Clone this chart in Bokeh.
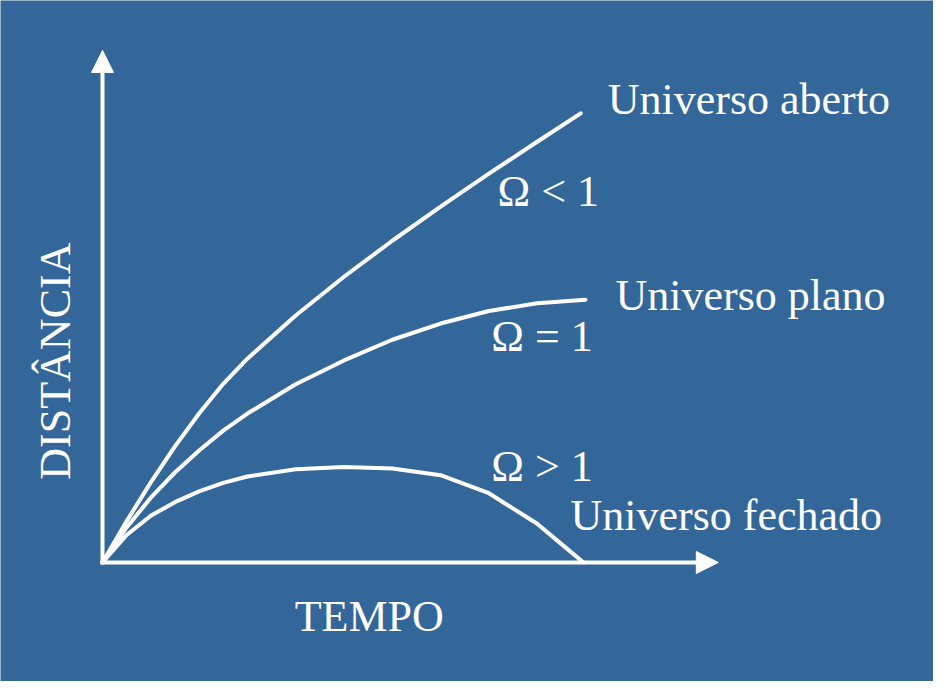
import math
from bokeh.plotting import figure
from bokeh.models import Range1d, Arrow, NormalHead
from bokeh.core.properties import value
from bokeh.embed import file_html
from bokeh.resources import INLINE

# --- data (arbitrary units: time, distance) ---
t_open = [0, 0.5, 1, 1.5, 2, 2.5, 3, 4, 5, 6, 7, 8, 9, 9.9]
d_open = [0, 0.92, 1.78, 2.58, 3.31, 3.97, 4.53, 5.49, 6.35, 7.15, 7.91, 8.64, 9.35, 9.98]

t_flat = [0, 0.5, 1, 1.5, 2, 2.5, 3, 4, 5, 6, 7, 8, 9, 10]
d_flat = [0, 0.78, 1.44, 2.00, 2.49, 2.93, 3.31, 3.96, 4.49, 4.95, 5.31, 5.59, 5.76, 5.84]

t_closed = [0, 0.5, 1, 1.5, 2, 2.5, 3, 4, 5, 6, 7, 8, 9, 9.59, 9.96]
d_closed = [0, 0.61, 1.04, 1.34, 1.58, 1.77, 1.91, 2.07, 2.12, 2.09, 1.94, 1.54, 0.86, 0.33, 0]

axis_time_end = 12.75
axis_dist_end = 11.38

curve_labels = ["Universo aberto", "Ω < 1", "Universo plano", "Ω = 1", "Ω > 1", "Universo fechado"]
x_title = "TEMPO"
y_title = "DISTÂNCIA"

# --- layout ---
W, H = 933, 681
PX_X, PX_Y = 48.3, 45.0
ORIG_X, ORIG_Y = 102, 119  # origin in figure pixels (from left, from bottom)

BG = "#336699"
FONT = value("Liberation Serif")

p = figure(width=W, height=H,
           x_range=Range1d(-ORIG_X / PX_X, (W - ORIG_X) / PX_X),
           y_range=Range1d(-ORIG_Y / PX_Y, (H - ORIG_Y) / PX_Y),
           output_backend="svg", toolbar_location=None,
           x_axis_type=None, y_axis_type=None, min_border=0)
p.grid.visible = False
p.outline_line_color = None
p.background_fill_color = BG
p.border_fill_color = BG

# axes with arrow heads
p.add_layout(Arrow(x_start=-0.04, y_start=0, x_end=axis_time_end, y_end=0,
                   line_color="white", line_width=4,
                   end=NormalHead(size=22, fill_color="white", line_color="white", line_width=1)))
p.add_layout(Arrow(x_start=0, y_start=-0.04, x_end=0, y_end=axis_dist_end,
                   line_color="white", line_width=4,
                   end=NormalHead(size=22, fill_color="white", line_color="white", line_width=1)))

# curves
for tt, dd in [(t_open, d_open), (t_flat, d_flat), (t_closed, d_closed)]:
    p.line(tt, dd, line_color="white", line_width=4, line_join="round", line_cap="round")

# labels
lab_x = [10.46, 8.18, 10.62, 8.05, 8.05, 9.69]
lab_y = [10.29, 8.24, 5.93, 5.02, 2.13, 1.04]
p.text(x=lab_x, y=lab_y, text=curve_labels, text_font=FONT, text_font_size="44px",
       text_color="white", text_align="left", text_baseline="alphabetic")

p.text(x=[3.98], y=[-1.20], text=[x_title], text_font=FONT, text_font_size="44px",
       text_color="white", text_align="left", text_baseline="alphabetic")
p.text(x=[-0.97], y=[1.84], text=[y_title], text_font=FONT, text_font_size="44px",
       text_color="white", text_align="left", text_baseline="alphabetic", angle=math.pi / 2)

open("out.html", "w").write(file_html(p, INLINE))
